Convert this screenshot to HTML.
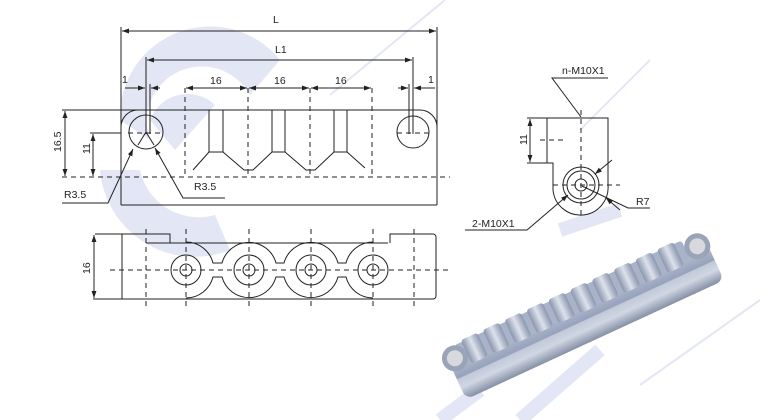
<!DOCTYPE html>
<html><head><meta charset="utf-8"><style>
html,body{margin:0;padding:0;background:#fff;}
svg{display:block;}
text{font-family:"Liberation Sans",Arial,sans-serif;font-size:10.5px;fill:#222;}
</style></head><body>
<svg width="780" height="420" viewBox="0 0 780 420" xmlns="http://www.w3.org/2000/svg">
<defs>
<marker id="a" viewBox="0 0 10 10" refX="10" refY="5" markerWidth="7" markerHeight="7" orient="auto-start-reverse"><path d="M0,1.5 L10,5 L0,8.5z" fill="#222"/></marker>
<linearGradient id="g1" x1="0" y1="0" x2="0" y2="1">
<stop offset="0" stop-color="#bcc4d6"/><stop offset="0.45" stop-color="#97a3bc"/><stop offset="0.7" stop-color="#d0d6e2"/><stop offset="1" stop-color="#8590a6"/></linearGradient>
<linearGradient id="g2" x1="0" y1="0" x2="1" y2="0">
<stop offset="0" stop-color="#8b96ae"/><stop offset="0.5" stop-color="#dde2ec"/><stop offset="1" stop-color="#8b96ae"/></linearGradient>
</defs>
<!-- watermark -->
<g fill="#e3e6f4" stroke="none">
<path d="M120,120 A90,90 0 0 1 280,60 L250,95 A55,55 0 0 0 150,140 Z"/>
<path d="M100,170 A95,95 0 0 0 230,250 L215,215 A60,60 0 0 1 140,170 Z"/>
<path d="M150,120 A40,40 0 0 1 215,105 L175,150 Z"/>
</g>
<g stroke="#e3e6f4" stroke-width="2" fill="none">
<line x1="330" y1="95" x2="445" y2="0"/>
<line x1="640" y1="385" x2="760" y2="300"/>
<line x1="580" y1="130" x2="650" y2="60"/>
</g>
<g stroke="#e3e6f4" stroke-width="14" fill="none">
<line x1="440" y1="420" x2="480" y2="390"/>
<line x1="520" y1="420" x2="600" y2="350"/>
<line x1="560" y1="230" x2="620" y2="210"/>
</g>

<g stroke="#222" stroke-width="1" fill="none">
<!-- L dims -->
<line x1="121" y1="27" x2="121" y2="205"/>
<line x1="437" y1="27" x2="437" y2="205"/>
<line x1="122" y1="31" x2="436" y2="31" marker-start="url(#a)" marker-end="url(#a)"/>
<line x1="146" y1="57" x2="146" y2="134"/>
<line x1="413" y1="57" x2="413" y2="134"/>
<line x1="147" y1="60" x2="412" y2="60" marker-start="url(#a)" marker-end="url(#a)"/>
<!-- 1 dims -->
<line x1="150" y1="84" x2="150" y2="134"/>
<line x1="409" y1="84" x2="409" y2="134"/>
<line x1="125" y1="88" x2="145" y2="88" marker-end="url(#a)"/>
<line x1="160" y1="88" x2="151" y2="88" marker-end="url(#a)"/>
<line x1="398" y1="88" x2="408" y2="88" marker-end="url(#a)"/>
<line x1="435" y1="88" x2="414" y2="88" marker-end="url(#a)"/>
<!-- 16 dims -->
<line x1="186" y1="88" x2="247" y2="88" marker-start="url(#a)" marker-end="url(#a)"/>
<line x1="249" y1="88" x2="309" y2="88" marker-start="url(#a)" marker-end="url(#a)"/>
<line x1="311" y1="88" x2="371" y2="88" marker-start="url(#a)" marker-end="url(#a)"/>
<g stroke-dasharray="5,4">
<line x1="185" y1="88" x2="185" y2="177"/><line x1="248" y1="88" x2="248" y2="177"/>
<line x1="310" y1="88" x2="310" y2="177"/><line x1="372" y1="88" x2="372" y2="177"/>
<line x1="62" y1="177" x2="450" y2="177"/>
<line x1="128" y1="133" x2="164" y2="133"/><line x1="397" y1="133" x2="430" y2="133"/>
</g>
<!-- body -->
<path d="M62,110 L420,110 A17,17 0 0 1 437,127"/>
<path d="M138,110 A17,17 0 0 0 121,127"/>
<line x1="121" y1="205" x2="437" y2="205"/>
<circle cx="146" cy="132" r="17"/>
<circle cx="413" cy="132" r="16"/>
<!-- grooves -->
<path d="M209,110 V152 H223 V110 M272,110 V152 H285 V110 M334,110 V152 H347 V110"/>
<path d="M193,170 L209,152 M223,152 L244,170 H253 L272,152 M285,152 L306,170 H315 L334,152 M347,152 L365,168"/>
<!-- 16.5 & 11 -->
<line x1="65" y1="111" x2="65" y2="176" marker-start="url(#a)" marker-end="url(#a)"/>
<line x1="90" y1="133" x2="121" y2="133"/>
<line x1="93" y1="134" x2="93" y2="176" marker-start="url(#a)" marker-end="url(#a)"/>
<!-- R3.5 leaders -->
<path d="M62,203 H108 L133,149" marker-end="url(#a)"/>
<path d="M225,198 H183 L155,148" marker-end="url(#a)"/>
<line x1="146" y1="132" x2="138" y2="145"/><line x1="146" y1="132" x2="154" y2="145"/>

<!-- bottom view -->
<path d="M95,234 H170 V243 M146,243 H388 M390,243 V234 H433 A3,3 0 0 1 436,237 V296 A3,3 0 0 1 433,299 H93"/>
<line x1="122" y1="234" x2="122" y2="299"/>
<line x1="94" y1="235" x2="94" y2="298" marker-start="url(#a)" marker-end="url(#a)"/>
<!-- lobes -->
<path d="M186,242 A28,28 0 0 1 213,263 L222,263 A28,28 0 0 1 276,263 L284,263 A28,28 0 0 1 338,263 L346,263 A28,28 0 0 1 373,242"/>
<path d="M186,298 A28,28 0 0 0 213,277 L222,277 A28,28 0 0 0 276,277 L284,277 A28,28 0 0 0 338,277 L346,277 A28,28 0 0 0 373,298"/>
<circle cx="186" cy="270" r="15"/><circle cx="249" cy="270" r="15"/><circle cx="311" cy="270" r="15"/><circle cx="373" cy="270" r="15"/>
<circle cx="186" cy="270" r="6"/><circle cx="249" cy="270" r="6"/><circle cx="311" cy="270" r="6"/><circle cx="373" cy="270" r="6"/>
<g stroke-dasharray="5,4">
<line x1="110" y1="270" x2="452" y2="270"/>
<line x1="146" y1="229" x2="146" y2="310"/><line x1="186" y1="229" x2="186" y2="310"/>
<line x1="249" y1="229" x2="249" y2="310"/><line x1="311" y1="229" x2="311" y2="310"/>
<line x1="373" y1="229" x2="373" y2="310"/><line x1="414" y1="229" x2="414" y2="310"/>
</g>

<!-- side view -->
<path d="M527,118 H608 V185 A27,27 0 0 1 553,190 V163 H527"/>
<line x1="547" y1="118" x2="547" y2="163"/>
<line x1="530" y1="119" x2="530" y2="162" marker-start="url(#a)" marker-end="url(#a)"/>
<circle cx="581" cy="185" r="18"/><circle cx="581" cy="185" r="14"/><circle cx="581" cy="185" r="6"/>
<g stroke-dasharray="5,4">
<line x1="581" y1="110" x2="581" y2="165"/>
<line x1="540" y1="140" x2="565" y2="140"/>
<line x1="553" y1="185" x2="620" y2="185"/>
<line x1="581" y1="165" x2="581" y2="218"/>
</g>
<path d="M608,78 H552 L581,117"/>
<path d="M612,160 L595,174" marker-end="url(#a)"/>
<path d="M650,208 H628 L582,186" />
<path d="M620,210 L606,198" marker-end="url(#a)"/>
<path d="M465,230 H527 L568,195" marker-end="url(#a)"/>
</g>
<text x="273" y="23">L</text>
<text x="275" y="53">L1</text>
<text x="122" y="83">1</text>
<text x="428" y="83">1</text>
<text x="210" y="84">16</text>
<text x="274" y="84">16</text>
<text x="335" y="84">16</text>
<text x="64" y="198">R3.5</text>
<text x="194" y="190">R3.5</text>
<text transform="translate(61,152) rotate(-90)">16.5</text>
<text transform="translate(90,154) rotate(-90)">11</text>
<text transform="translate(90,274) rotate(-90)">16</text>
<text transform="translate(527,145) rotate(-90)">11</text>
<text x="562" y="74">n-M10X1</text>
<text x="636" y="205">R7</text>
<text x="472" y="227">2-M10X1</text>

<!-- photo -->
<g transform="translate(585,318) rotate(-24.8)">
<rect x="-142" y="-18" width="284" height="42" rx="8" fill="url(#g1)"/>
<rect x="-130" y="-30" width="250" height="20" rx="3" fill="#a8b2c8"/>
<g fill="url(#g2)">
<rect x="-122" y="-32" width="18" height="26" rx="3"/><rect x="-98" y="-32" width="18" height="26" rx="3"/>
<rect x="-74" y="-32" width="18" height="26" rx="3"/><rect x="-50" y="-32" width="18" height="26" rx="3"/>
<rect x="-26" y="-32" width="18" height="26" rx="3"/><rect x="-2" y="-32" width="18" height="26" rx="3"/>
<rect x="22" y="-32" width="18" height="26" rx="3"/><rect x="46" y="-32" width="18" height="26" rx="3"/>
<rect x="70" y="-32" width="18" height="26" rx="3"/><rect x="94" y="-32" width="18" height="26" rx="3"/>
</g>
<rect x="-142" y="2" width="284" height="10" fill="#d0d6e2" opacity="0.7"/>
<circle cx="-135" cy="-18" r="13" fill="#9aa4b8"/><circle cx="-135" cy="-18" r="8" fill="#d7d9df"/>
<circle cx="132" cy="-18" r="13" fill="#9aa4b8"/><circle cx="132" cy="-18" r="8" fill="#d7d9df"/>
</g>
</svg>
</body></html>
